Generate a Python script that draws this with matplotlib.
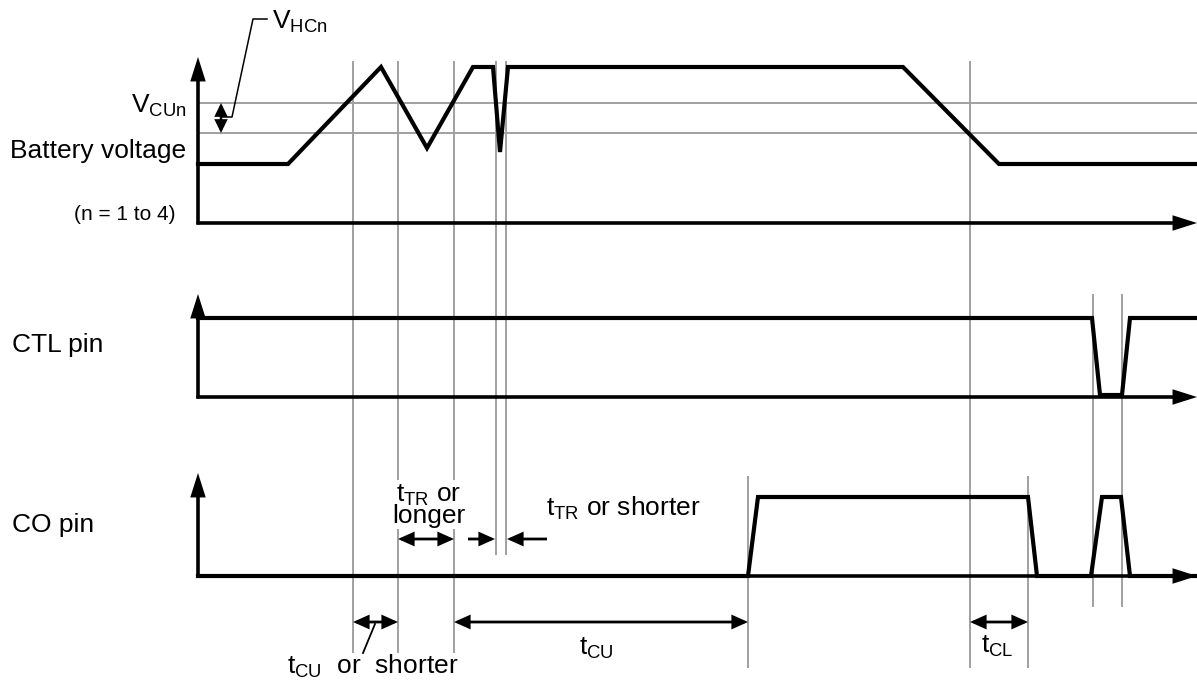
import matplotlib
matplotlib.use('Agg')
import matplotlib.pyplot as plt
from matplotlib.patches import FancyArrowPatch

plt.rcParams['font.family'] = ['Liberation Sans', 'DejaVu Sans']
plt.rcParams['mathtext.fontset'] = 'custom'
plt.rcParams['mathtext.rm'] = 'Liberation Sans'
plt.rcParams['mathtext.it'] = 'Liberation Sans:italic'

# the sheet is laid out in pixels, y grows downwards
W, H = 1197, 681
x0 = 198

# battery voltage trace
batt_x = [198, 288, 381, 427, 473, 493, 500, 508, 903, 999, 1197]
batt_y = [164, 164, 67, 148, 67, 67, 152, 67, 67, 164, 164]
batt_axis, batt_top = 223, 57
vcu_level = 103   # VCUn
vrel_level = 133  # VCUn - VHCn

# CTL pin trace
ctl_x = [198, 1092, 1100, 1122, 1130, 1197]
ctl_y = [318, 318, 395, 395, 318, 318]
ctl_axis, ctl_top = 397, 294

# CO pin trace
co_x = [198, 748, 758, 1028, 1037, 1091, 1102, 1121, 1130, 1197]
co_y = [576, 576, 497, 497, 576, 576, 497, 497, 576, 576]
co_axis, co_top = 576, 473

# timing marker lines (x, top, bottom)
mark_x = [353, 398, 454, 496, 506, 748, 970, 1028, 1093, 1122]
mark_top = [62, 62, 62, 62, 62, 477, 62, 477, 295, 295]
mark_bot = [652, 652, 652, 554, 554, 667, 667, 667, 606, 606]

GRAY = '#a0a0a0'
FS = 19

fig = plt.figure(figsize=(W / 100, H / 100), dpi=100)
ax = fig.add_axes([0, 0, 1, 1])
ax.set_xlim(0, W)
ax.set_ylim(H, 0)
ax.axis('off')


def arrow(p1, p2, style='<|-|>', hl=8.5, hw=3.8, lw=2.0):
    a = FancyArrowPatch(p1, p2, arrowstyle=f'{style},head_length={hl},head_width={hw}',
                        mutation_scale=1, lw=lw, color='k', shrinkA=0, shrinkB=0,
                        joinstyle='miter', capstyle='butt')
    ax.add_patch(a)


# gray guides
for x, t, b in zip(mark_x, mark_top, mark_bot):
    ax.plot([x, x], [t, b], color=GRAY, lw=1.4, zorder=1)
for lvl in [vcu_level, vrel_level]:
    ax.plot([x0, W], [lvl, lvl], color=GRAY, lw=1.4, zorder=1)

# axes of the three traces
for ya, yt in [(batt_axis, batt_top), (ctl_axis, ctl_top), (co_axis, co_top)]:
    arrow((x0, ya + 1.5), (x0, yt), style='-|>', hl=12, hw=3.8, lw=2.6)
    arrow((x0 - 1.5, ya), (W, ya), style='-|>', hl=12, hw=3.8, lw=2.6)

# waveforms
for xs, ys in [(batt_x, batt_y), (ctl_x, ctl_y), (co_x, co_y)]:
    ax.plot(xs, ys, color='k', lw=3.0, solid_joinstyle='miter', zorder=3)

# VHCn hysteresis marker
arrow((221, vcu_level), (221, vrel_level), hl=7, hw=3.4, lw=1.8)
ax.plot([222, 232, 253, 267], [117, 117, 19, 19], color='k', lw=1.1)
ax.text(272, 29, r'$\mathrm{V_{HCn}}$', fontsize=FS, va='baseline', ha='left')

# dimension arrows
arrow((353, 622), (398, 622))
arrow((398, 539), (454, 539))
arrow((468, 539), (495, 539), style='-|>')
arrow((547, 539), (507, 539), style='-|>')
arrow((454, 622), (748, 622))
arrow((970, 622), (1028, 622))
ax.plot([375, 363], [624, 653], color='k', lw=1.3)

# labels
ax.text(187, 113, r'$\mathrm{V_{CUn}}$', fontsize=FS, ha='right', va='baseline')
ax.text(186, 158, 'Battery voltage', fontsize=FS, ha='right', va='baseline')
ax.text(176, 220, '(n = 1 to 4)', fontsize=15, ha='right', va='baseline')
ax.text(12, 352, 'CTL pin', fontsize=FS, ha='left', va='baseline')
ax.text(12, 532, 'CO pin', fontsize=FS, ha='left', va='baseline')

box = dict(facecolor='white', edgecolor='none', pad=1)
ax.text(429, 523, r'$\mathrm{t_{TR}}$ or' + '\nlonger', fontsize=FS, ha='center',
        va='baseline', multialignment='center', linespacing=0.8, bbox=box, zorder=4)
ax.text(546, 516, r'$\mathrm{t_{TR}}$ or shorter', fontsize=FS, ha='left', va='baseline')
ax.text(596, 655, r'$\mathrm{t_{CU}}$', fontsize=FS, ha='center', va='baseline')
ax.text(997, 653, r'$\mathrm{t_{CL}}$', fontsize=FS, ha='center', va='baseline')
ax.text(287, 674, r'$\mathrm{t_{CU}}$  or  shorter', fontsize=FS, ha='left', va='baseline')

fig.savefig('out.png', dpi=100)
